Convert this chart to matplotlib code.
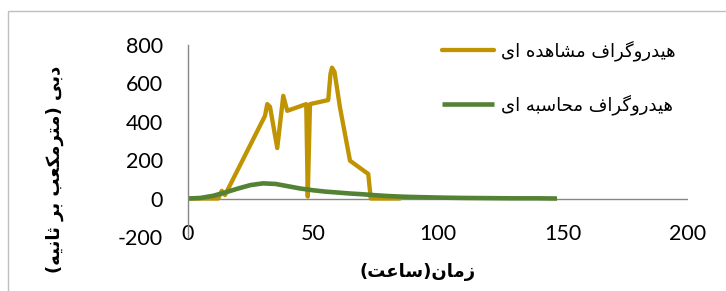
import matplotlib
matplotlib.use("Agg")
import matplotlib.pyplot as plt
from matplotlib.patches import Rectangle

# ---------------- data ----------------
obs_x = [0, 12.1, 13.5, 14.8, 30.8, 31.7, 32.8, 35.7, 38.1, 39.7, 47.3, 47.9, 48.8,
         56.1, 57.0, 57.6, 58.6, 60.8, 64.8, 72.1, 73.1, 84.8]
obs_y = [0, 0, 40, 18, 431, 492, 478, 263, 535, 457, 492, 10, 492,
         513, 650, 682, 660, 474, 197, 128, 0, 0]

calc_x = [0, 5, 10, 15, 20, 25, 30, 35, 40, 45, 50, 55, 60, 65, 70, 75, 80, 85, 90,
          100, 110, 120, 130, 140, 147.6]
calc_y = [0, 3, 14, 32, 52, 70, 79, 76, 64, 52, 43, 36, 31, 26, 22, 17, 13, 10, 8,
          5, 3, 2, 1, 1, 0]

x_ticks = [0, 50, 100, 150, 200]
y_ticks = [-200, 0, 200, 400, 600, 800]

label_obs = "هیدروگراف مشاهده ای"
label_calc = "هیدروگراف محاسبه ای"
x_title = "زمان(ساعت)"
y_title = "دبی (مترمکعب بر ثانیه)"

# ---------------- simple Arabic/Persian shaping ----------------
FORMS = {
    '\u0627': ('\uFE8D', '\uFE8E', None, None),      # alef
    '\u0622': ('\uFE81', '\uFE82', None, None),
    '\u0628': ('\uFE8F', '\uFE90', '\uFE91', '\uFE92'),  # beh
    '\u062A': ('\uFE95', '\uFE96', '\uFE97', '\uFE98'),  # teh
    '\u062B': ('\uFE99', '\uFE9A', '\uFE9B', '\uFE9C'),  # theh
    '\u062D': ('\uFEA1', '\uFEA2', '\uFEA3', '\uFEA4'),  # hah
    '\u062F': ('\uFEA9', '\uFEAA', None, None),      # dal
    '\u0631': ('\uFEAD', '\uFEAE', None, None),      # reh
    '\u0632': ('\uFEAF', '\uFEB0', None, None),      # zain
    '\u0633': ('\uFEB1', '\uFEB2', '\uFEB3', '\uFEB4'),  # seen
    '\u0634': ('\uFEB5', '\uFEB6', '\uFEB7', '\uFEB8'),  # sheen
    '\u0639': ('\uFEC9', '\uFECA', '\uFECB', '\uFECC'),  # ain
    '\u0641': ('\uFED1', '\uFED2', '\uFED3', '\uFED4'),  # feh
    '\u0645': ('\uFEE1', '\uFEE2', '\uFEE3', '\uFEE4'),  # meem
    '\u0646': ('\uFEE5', '\uFEE6', '\uFEE7', '\uFEE8'),  # noon
    '\u0647': ('\uFEE9', '\uFEEA', '\uFEEB', '\uFEEC'),  # heh
    '\u0648': ('\uFEED', '\uFEEE', None, None),      # waw
    '\u06CC': ('\uFBFC', '\uFBFD', '\uFBFE', '\uFBFF'),  # farsi yeh
    '\u06AF': ('\uFB92', '\uFB93', '\uFB94', '\uFB95'),  # gaf
    '\u06A9': ('\uFB8E', '\uFB8F', '\uFB90', '\uFB91'),  # keheh
}


def shape(text):
    out = []
    n = len(text)
    for i, c in enumerate(text):
        if c not in FORMS:
            out.append(c)
            continue
        iso, fin, ini, med = FORMS[c]
        prev = text[i - 1] if i > 0 else None
        nxt = text[i + 1] if i + 1 < n else None
        jp = prev in FORMS and FORMS[prev][2] is not None
        jn = nxt in FORMS and ini is not None
        if jp and jn:
            f = med
        elif jp:
            f = fin
        elif jn:
            f = ini
        else:
            f = iso
        out.append(f)
    vis = ''.join(reversed(out))
    return vis.translate(str.maketrans('()', ')('))


# ---------------- figure ----------------
GOLD = '#C09300'
GREEN = '#548235'
AXC = '#868686'
NUMFONT = ['Lato', 'DejaVu Sans']
ARFONT = ['DejaVu Sans']

fig = plt.figure(figsize=(7.26, 2.91), dpi=100)
fig.patches.append(Rectangle((8 / 726, -0.2), 1.2, 1.2 - 11 / 291,
                             transform=fig.transFigure, fill=False,
                             edgecolor='#BFBFBF', linewidth=1.0))

ax = fig.add_axes([188 / 726, 1 - 236.9 / 291, 500 / 726, (236.9 - 45) / 291])
ax.set_xlim(0, 200)
ax.set_ylim(-200, 800)

ax.plot(obs_x, obs_y, color=GOLD, lw=3.1, solid_joinstyle='round',
        solid_capstyle='round', label=shape(label_obs))
ax.plot(calc_x, calc_y, color=GREEN, lw=3.3, solid_joinstyle='round',
        solid_capstyle='butt', label=shape(label_calc))

for s in ['top', 'right', 'bottom']:
    ax.spines[s].set_visible(False)
ax.spines['left'].set_color(AXC)
ax.spines['left'].set_linewidth(1.0)
ax.axhline(0, color=AXC, lw=1.0, zorder=1)

ax.set_xticks(x_ticks)
ax.set_xticklabels([str(t) for t in x_ticks])
ax.set_yticks(y_ticks)
ax.set_yticklabels([str(t) for t in y_ticks])
ax.tick_params(axis='both', length=0, labelsize=15.5)
ax.tick_params(axis='y', pad=18)
ax.tick_params(axis='x', pad=-9)
for lab in ax.get_xticklabels() + ax.get_yticklabels():
    lab.set_fontfamily(NUMFONT)

fig.text(418 / 726, 1 - 272 / 291, shape(x_title), ha='center', va='center',
         fontsize=13, fontweight='bold', family=ARFONT)
fig.text(55 / 726, 1 - 169 / 291, shape(y_title), ha='center', va='center',
         rotation=90, fontsize=13, fontweight='bold', family=ARFONT)

leg = ax.legend(loc='upper left', bbox_to_anchor=(442 / 726, 1 - 40 / 291),
                bbox_transform=fig.transFigure, frameon=False,
                prop={'family': ARFONT, 'size': 13}, handlelength=2.9,
                handletextpad=0.35, labelspacing=1.85, borderpad=0, borderaxespad=0)

fig.savefig('out.png', dpi=100)
